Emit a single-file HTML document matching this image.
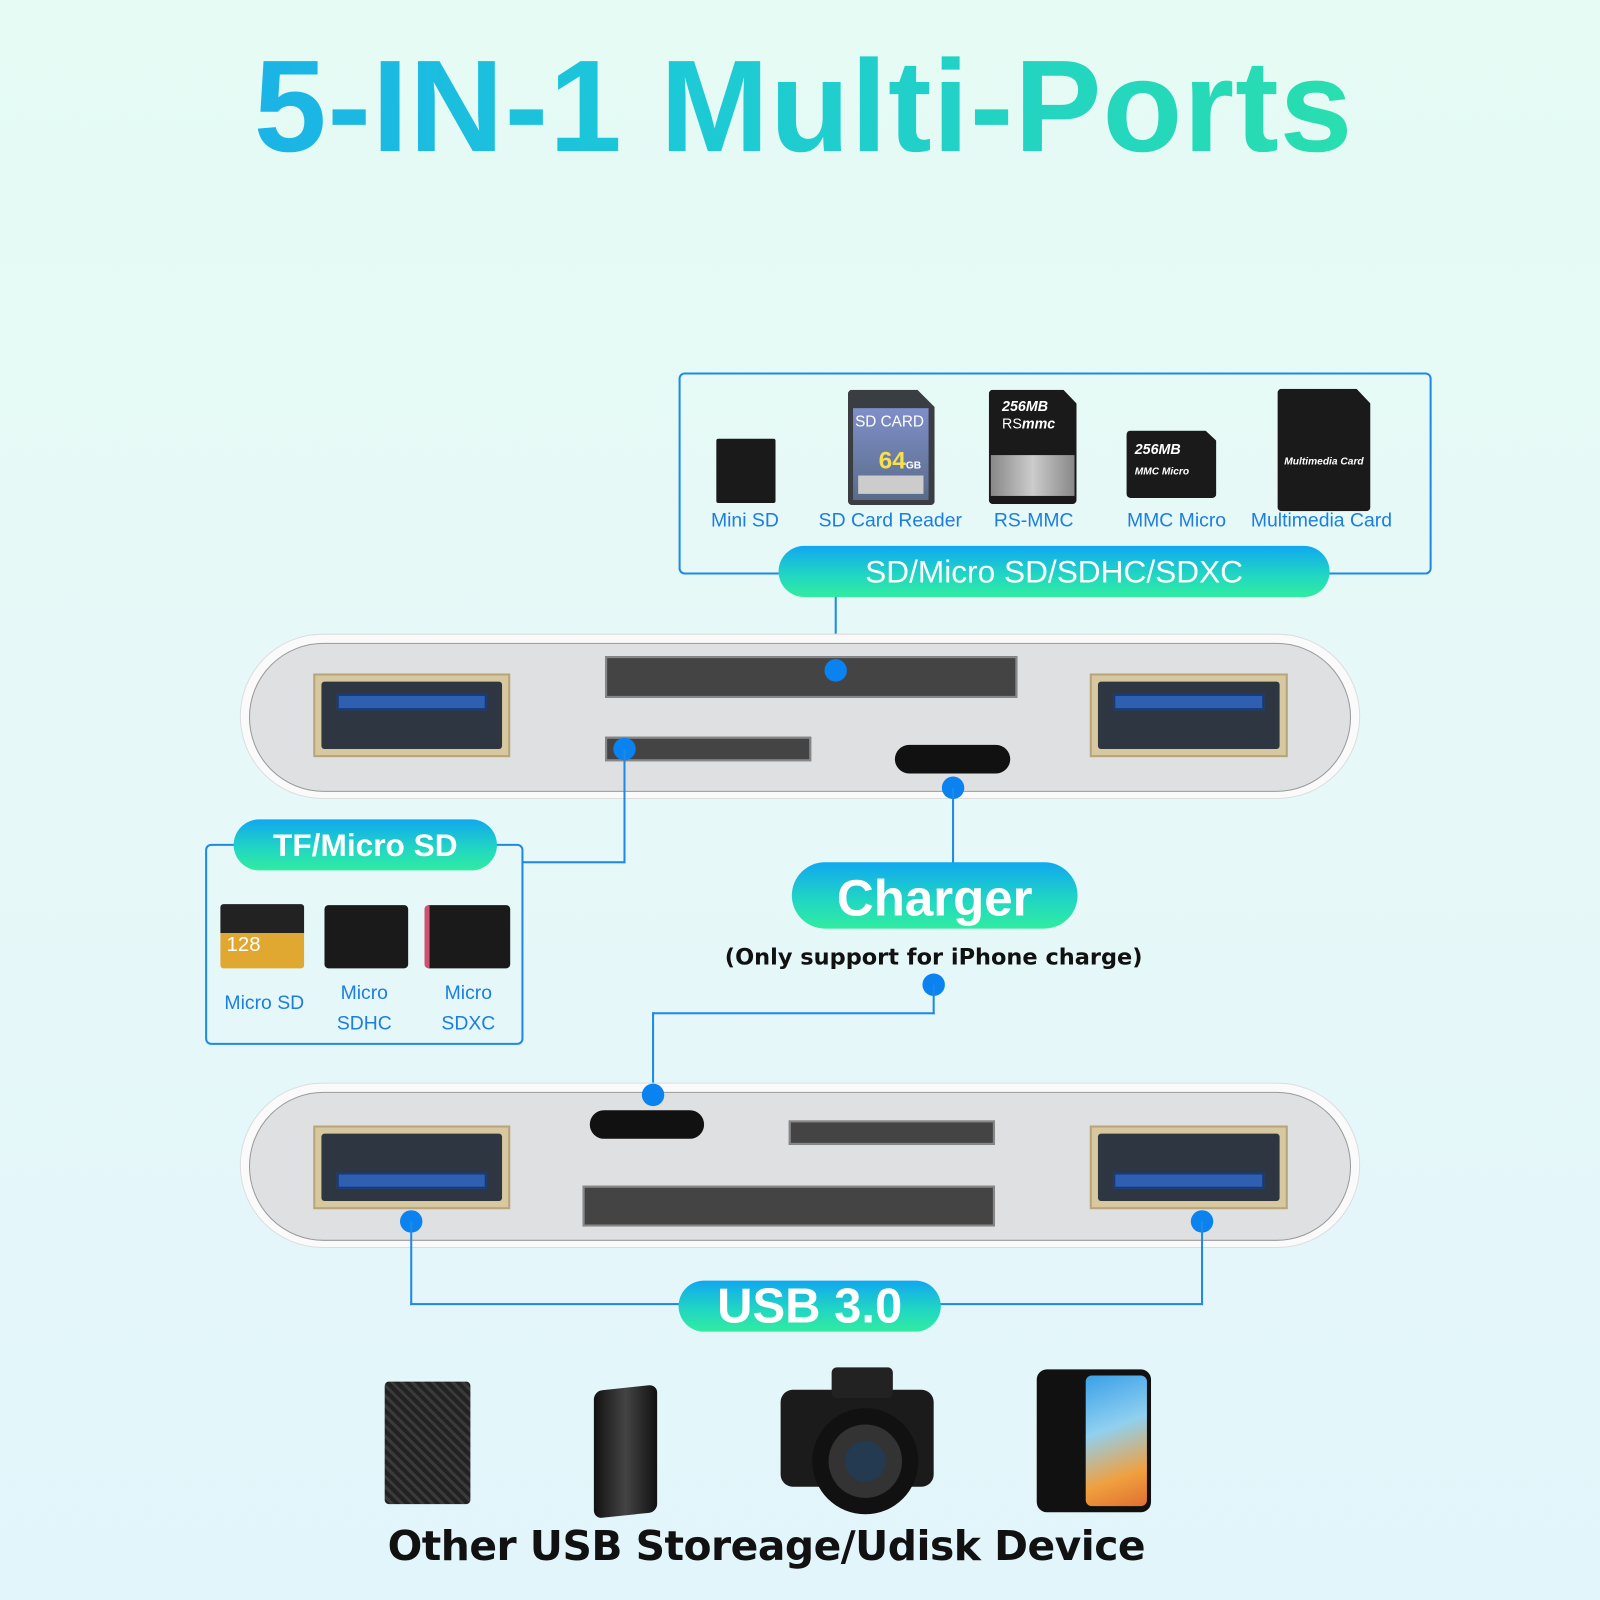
<!DOCTYPE html>
<html><head><meta charset="utf-8"><style>
*{margin:0;padding:0;box-sizing:border-box}
html,body{width:1600px;height:1600px;overflow:hidden}
body{background:linear-gradient(180deg,#e5fbf4 0%,#e6f8f8 50%,#e2f5fb 100%);font-family:"Liberation Sans",sans-serif}
#w{position:absolute;left:0;top:0;width:1568px;height:1568px;transform:scale(1.020408);transform-origin:0 0}
.a{position:absolute}
.title{left:0;width:1575px;top:30px;text-align:center;font-size:128px;font-weight:bold;line-height:150px;background:linear-gradient(90deg,#1aa6ef,#1cc8d8 40%,#2ee6a0);-webkit-background-clip:text;background-clip:text;color:transparent;letter-spacing:1px}
.box{border:2px solid #1e8ae6;border-radius:6px}
.pill{border-radius:26px;background:linear-gradient(180deg,#10a8f0,#22d8c0 60%,#30eca0);color:#fff;text-align:center;font-weight:bold}
.lbl{color:#1b7ee0;font-size:19px;text-align:center}
.ln{background:#1e8ae6}
.dot{width:22px;height:22px;border-radius:50%;background:#0a82f0;margin:-11px 0 0 -11px}
.dev{border-radius:80px;background:#fafafa;box-shadow:0 0 0 1px #ddd}
.dev>div.in{position:absolute;left:8px;top:8px;right:8px;bottom:6px;border-radius:75px;background:#dfe0e2;border:1px solid #999}
.usb{background:#d8c8a0;border:2px solid #b9a57c;padding:6px}
.usb>div{width:100%;height:100%;background:#2e3642;position:relative;border-radius:3px}
.usb>div>i{position:absolute;left:15px;right:15px;top:12px;height:16px;background:#2e5fb0;border:2px solid #173a78}
.slot{background:#444;border:2px solid #888}
.c{background:#111;border-radius:16px}
.card{background:#1a1a1a;border-radius:4px}
</style></head><body><div id="w">
<div class="a title">5-IN-1 Multi-Ports</div>

<div class="a box" style="left:665px;top:365px;width:738px;height:198px"></div>
<div class="a card" style="left:702px;top:430px;width:58px;height:63px;border-radius:2px"></div>
<div class="a" style="left:831px;top:382px;width:85px;height:113px;background:#3a3d42;border-radius:4px;clip-path:polygon(0 0,80% 0,100% 15%,100% 100%,0 100%)"></div>
<div class="a" style="left:836px;top:400px;width:74px;height:90px;background:linear-gradient(#7f8fc8,#5a6c8a)"></div>
<div class="a" style="left:838px;top:405px;color:#fff;font-size:15px">SD CARD</div>
<div class="a" style="left:861px;top:438px;color:#f5e050;font-size:24px;font-weight:bold">64<span style="font-size:10px;color:#fff">GB</span></div>
<div class="a" style="left:841px;top:466px;width:64px;height:18px;background:#ccc"></div>
<div class="a card" style="left:969px;top:382px;width:86px;height:112px;clip-path:polygon(0 0,85% 0,100% 12%,100% 100%,0 100%)"></div>
<div class="a" style="left:971px;top:446px;width:82px;height:40px;background:linear-gradient(90deg,#888,#ccc,#888)"></div>
<div class="a" style="left:982px;top:390px;color:#fff;font-size:14px;font-weight:bold;font-style:italic;line-height:17px">256MB<br><span style="font-weight:normal;font-style:normal">RS</span>mmc</div>
<div class="a card" style="left:1104px;top:422px;width:88px;height:66px;clip-path:polygon(0 0,88% 0,100% 15%,100% 100%,0 100%)"></div>
<div class="a" style="left:1112px;top:430px;color:#fff;font-size:14px;font-weight:bold;font-style:italic;line-height:20px">256MB<br><span style="font-size:10px">MMC Micro</span></div>
<div class="a card" style="left:1252px;top:381px;width:91px;height:120px;clip-path:polygon(0 0,85% 0,100% 12%,100% 100%,0 100%)"></div>
<div class="a" style="left:1255px;top:447px;width:85px;text-align:center;color:#fff;font-size:10px;font-weight:bold;font-style:italic">Multimedia Card</div>
<div class="a lbl" style="left:690px;top:500px;width:80px">Mini SD</div>
<div class="a lbl" style="left:790px;top:500px;width:165px">SD Card Reader</div>
<div class="a lbl" style="left:963px;top:500px;width:100px">RS-MMC</div>
<div class="a lbl" style="left:1098px;top:500px;width:110px">MMC Micro</div>
<div class="a lbl" style="left:1215px;top:500px;width:160px">Multimedia Card</div>
<div class="a pill" style="left:763px;top:535px;width:540px;height:50px;font-size:31px;line-height:52px;font-weight:normal">SD/Micro SD/SDHC/SDXC</div>
<div class="a ln" style="left:818px;top:585px;width:2px;height:72px"></div>

<div class="a dev" style="left:236px;top:622px;width:1096px;height:160px"><div class="in"></div></div>
<div class="a usb" style="left:307px;top:660px;width:193px;height:82px"><div><i></i></div></div>
<div class="a usb" style="left:1068px;top:660px;width:194px;height:82px"><div><i></i></div></div>
<div class="a slot" style="left:593px;top:643px;width:404px;height:41px"></div>
<div class="a slot" style="left:593px;top:722px;width:202px;height:24px"></div>
<div class="a c" style="left:877px;top:730px;width:113px;height:28px"></div>
<div class="a dot" style="left:819px;top:657px"></div>
<div class="a dot" style="left:612px;top:734px"></div>
<div class="a dot" style="left:934px;top:772px"></div>

<div class="a ln" style="left:611px;top:734px;width:2px;height:112px"></div>
<div class="a ln" style="left:512px;top:844px;width:101px;height:2px"></div>
<div class="a box" style="left:201px;top:827px;width:312px;height:197px"></div>
<div class="a pill" style="left:229px;top:803px;width:258px;height:50px;font-size:31px;line-height:52px">TF/Micro SD</div>
<div class="a" style="left:216px;top:886px;width:82px;height:63px;background:linear-gradient(#222 0 45%,#e0a830 45%);border-radius:3px"></div>
<div class="a" style="left:222px;top:915px;color:#fff;font-size:20px">128</div>
<div class="a card" style="left:318px;top:887px;width:82px;height:62px"></div>
<div class="a card" style="left:416px;top:887px;width:84px;height:62px;border-left:5px solid #d05070"></div>
<div class="a lbl" style="left:214px;top:973px;width:90px">Micro SD</div>
<div class="a lbl" style="left:314px;top:959px;width:86px;line-height:30px">Micro<br>SDHC</div>
<div class="a lbl" style="left:415px;top:959px;width:88px;line-height:30px">Micro<br>SDXC</div>

<div class="a ln" style="left:933px;top:772px;width:2px;height:76px"></div>
<div class="a pill" style="left:776px;top:845px;width:280px;height:65px;border-radius:33px;font-size:50px;line-height:70px">Charger</div>
<div class="a" style="left:680px;top:926px;width:470px;text-align:center;white-space:nowrap;font-family:'DejaVu Sans',sans-serif;font-size:22px;font-weight:bold;color:#111">(Only support for iPhone charge)</div>
<div class="a dot" style="left:915px;top:965px"></div>
<div class="a ln" style="left:914px;top:965px;width:2px;height:29px"></div>
<div class="a ln" style="left:639px;top:992px;width:277px;height:2px"></div>
<div class="a ln" style="left:639px;top:992px;width:2px;height:81px"></div>

<div class="a dev" style="left:236px;top:1062px;width:1096px;height:160px"><div class="in"></div></div>
<div class="a usb" style="left:307px;top:1103px;width:193px;height:82px"><div><i style="top:38px"></i></div></div>
<div class="a usb" style="left:1068px;top:1103px;width:194px;height:82px"><div><i style="top:38px"></i></div></div>
<div class="a c" style="left:578px;top:1088px;width:112px;height:28px"></div>
<div class="a slot" style="left:773px;top:1098px;width:202px;height:24px"></div>
<div class="a slot" style="left:571px;top:1162px;width:404px;height:40px"></div>
<div class="a dot" style="left:640px;top:1073px"></div>
<div class="a dot" style="left:403px;top:1197px"></div>
<div class="a dot" style="left:1178px;top:1197px"></div>
<div class="a ln" style="left:402px;top:1197px;width:2px;height:82px"></div>
<div class="a ln" style="left:1177px;top:1197px;width:2px;height:82px"></div>
<div class="a ln" style="left:402px;top:1277px;width:777px;height:2px"></div>
<div class="a pill" style="left:665px;top:1255px;width:257px;height:50px;font-size:48px;line-height:52px">USB 3.0</div>

<div class="a" style="left:377px;top:1354px;width:84px;height:120px;background:repeating-linear-gradient(45deg,#222 0 4px,#3a3a3a 4px 7px);border-radius:4px"></div>
<div class="a" style="left:582px;top:1360px;width:62px;height:125px;background:linear-gradient(90deg,#111,#444,#111);border-radius:8px;transform:skewY(-6deg)"></div>
<svg class="a" style="left:760px;top:1332px" width="160" height="156" viewBox="0 0 160 156">
<rect x="5" y="30" width="150" height="95" rx="12" fill="#1b1b1b"/>
<rect x="55" y="8" width="60" height="30" rx="5" fill="#222"/>
<circle cx="88" cy="100" r="52" fill="#111"/><circle cx="88" cy="100" r="36" fill="#333"/><circle cx="88" cy="100" r="20" fill="#233a50"/>
</svg>
<div class="a" style="left:1016px;top:1342px;width:112px;height:140px;background:#111;border-radius:10px"></div>
<div class="a" style="left:1064px;top:1348px;width:60px;height:128px;background:linear-gradient(160deg,#3aa0e8,#90d0f0 40%,#f0a040 75%,#e07030);border-radius:6px"></div>
<div class="a" style="left:251px;top:1493px;width:1000px;text-align:center;white-space:nowrap;font-family:'DejaVu Sans',sans-serif;font-weight:bold;font-size:40px;color:#111;letter-spacing:-0.5px">Other USB Storeage/Udisk Device</div>
</div></body></html>
